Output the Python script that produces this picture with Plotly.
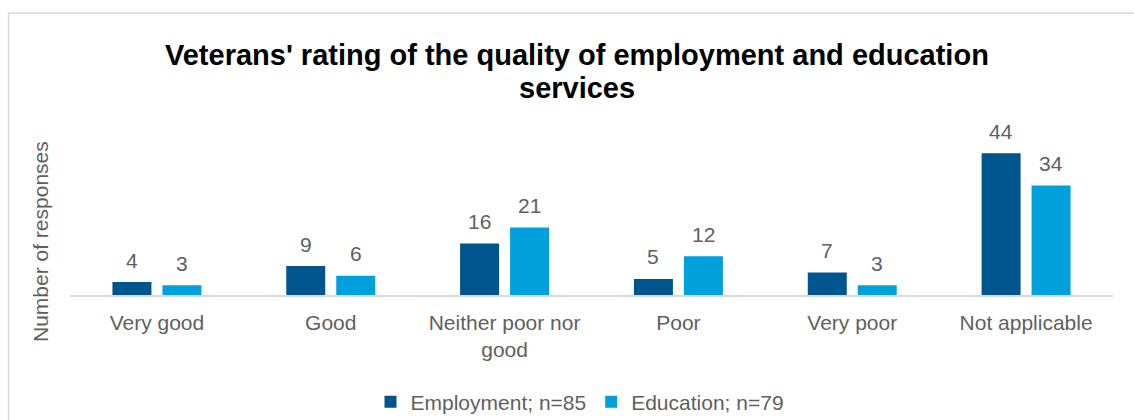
import plotly.graph_objects as go

categories = ["Very good", "Good", "Neither poor nor<br>good", "Poor", "Very poor", "Not applicable"]
employment = [4, 9, 16, 5, 7, 44]
education = [3, 6, 21, 12, 3, 34]
series_names = ["Employment; n=85", "Education; n=79"]
colors = ["#00558F", "#00A0DC"]
title_lines = ["Veterans' rating of the quality of employment and education", "services"]

W, H = 1134, 420
L, R, T, B = 70, 21, 120, 125
plot_w = W - L - R
plot_h = H - T - B
px_per_unit = 3.22
y_max = plot_h / px_per_unit

text_color = "#5f5f5f"
font_family = "Liberation Sans, Arial, sans-serif"
label_size = 21
title_size = 29


def px_x(p):
    return (p - L) / plot_w


def px_y(p):
    return (H - B - p) / plot_h


fig = go.Figure()
annotations = []
bar_offsets = [-25, 25]
for name, vals, color, dx in zip(series_names, [employment, education], colors, bar_offsets):
    fig.add_trace(go.Bar(
        x=categories, y=vals, name=name,
        marker=dict(color=color, line=dict(width=0)),
        cliponaxis=False,
    ))
    # value labels above each bar
    for cat, v in zip(categories, vals):
        annotations.append(dict(
            x=cat, y=v, xref="x", yref="y", text=str(v), showarrow=False,
            xshift=dx, yshift=22, xanchor="center", yanchor="middle",
            font=dict(size=label_size, color=text_color, family=font_family),
        ))

# chart title, two lines with tight spacing
for line, yc in zip(title_lines, [55, 88]):
    annotations.append(dict(
        x=px_x(577), y=px_y(yc), xref="paper", yref="paper",
        text=f"<b>{line}</b>", showarrow=False,
        xanchor="center", yanchor="middle",
        font=dict(size=title_size, color="black", family=font_family),
    ))

# y-axis title
annotations.append(dict(
    x=px_x(40), y=px_y(242), xref="paper", yref="paper",
    text="Number of responses", textangle=-90, showarrow=False,
    xanchor="center", yanchor="middle",
    font=dict(size=label_size, color=text_color, family=font_family),
))

fig.update_layout(
    width=W, height=H,
    margin=dict(l=L, r=R, t=T, b=B, autoexpand=False),
    paper_bgcolor="white", plot_bgcolor="white",
    barmode="group", bargap=0.425, bargroupgap=0.22,
    font=dict(family=font_family, color=text_color, size=label_size),
    xaxis=dict(
        showgrid=False, showline=True, linecolor="#d9d9d9", linewidth=1.5,
        ticks="", ticklabelstandoff=8,
        tickfont=dict(size=label_size, color=text_color),
    ),
    yaxis=dict(
        range=[0, y_max], showgrid=False, showticklabels=False, zeroline=False,
        showline=False, ticks="",
    ),
    legend=dict(
        orientation="h", x=px_x(580), xanchor="center", y=px_y(402), yanchor="middle",
        font=dict(size=label_size, color=text_color), itemwidth=30,
        traceorder="normal",
    ),
    annotations=annotations,
    shapes=[dict(
        type="rect", xref="paper", yref="paper",
        x0=px_x(8.5), x1=px_x(1140), y0=px_y(440), y1=px_y(13),
        line=dict(color="#d9d9d9", width=1.5), fillcolor="rgba(0,0,0,0)",
        layer="below",
    )],
)

fig.write_html("out.html")
